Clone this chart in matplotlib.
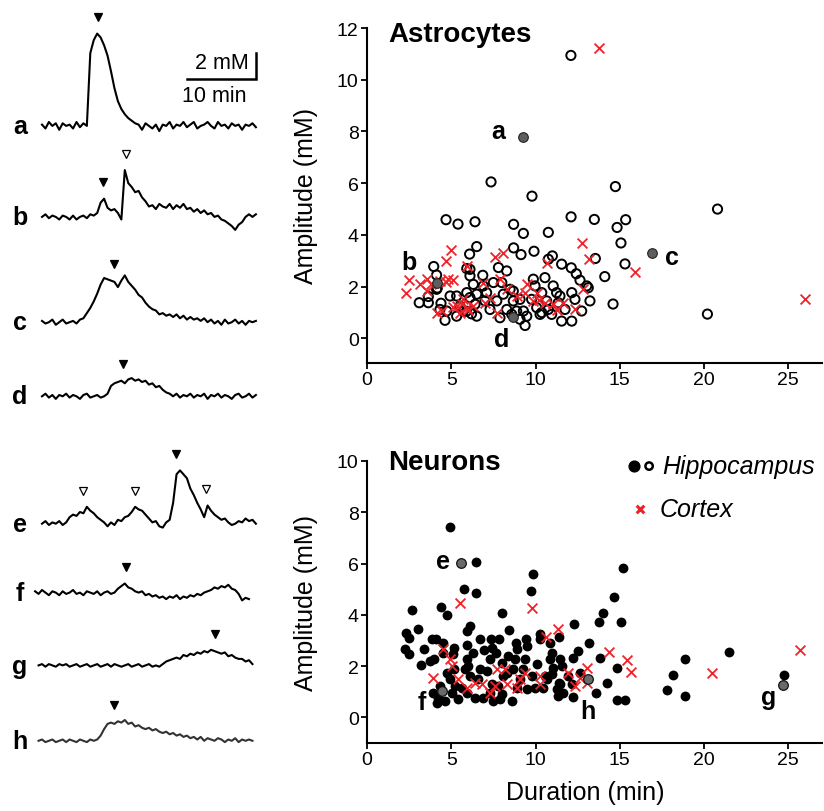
import numpy as np
import matplotlib.pyplot as plt

plt.rcParams['font.family'] = ['Liberation Sans', 'DejaVu Sans']

# ---- example traces (mM above baseline), one sample every 0.5 min ----
trace_names = ['a', 'b', 'c', 'd', 'e', 'f', 'g', 'h']

trace_a = [0.1, -0.2, 0.3, 0.0, 0.2, -0.3, 0.2, 0.0, 0.1, -0.2, 0.3, -0.1, 0.2, 0.0,
           5.6, 6.6, 7.1, 6.8, 6.2, 5.4, 4.2, 2.9, 1.9, 1.3, 0.9, 0.6, 0.4, 0.2,
           0.1, -0.3, 0.2, 0.0, -0.2, 0.1, -0.4, 0.1, 0.0, 0.3, -0.2, 0.1, 0.0, 0.3,
           -0.1, 0.1, 0.3, -0.2, 0.0, 0.1, 0.3, 0.0, -0.2, 0.3, 0.0, 0.1, -0.2, 0.2,
           0.0, 0.1, -0.3, 0.1, 0.0, 0.2, -0.1]
trace_b = [0.0, 0.2, -0.1, 0.1, 0.0, -0.2, 0.1, 0.0, -0.2, 0.1, -0.2, 0.0, 0.1, -0.1,
           0.2, 0.1, 0.3, 1.1, 1.4, 0.7, 0.5, 0.6, 0.3, -0.2,
           3.6, 2.6, 2.3, 1.9, 2.0, 1.5, 1.2, 0.8, 0.9, 0.6, 1.0, 0.8, 0.7, 1.0, 0.6,
           0.9, 0.7, 1.0, 0.6, 0.7, 0.4, 0.6, 0.3, 0.5, 0.2, 0.3, 0.0, 0.1, -0.2, -0.3,
           -0.5, -0.7, -1.0, -0.6, -0.4, 0.0, 0.2, 0.0, 0.2]
trace_c = [0.1, -0.1, 0.0, 0.2, -0.2, 0.0, 0.2, -0.1, 0.0, 0.1, -0.1, 0.2, 0.3,
           0.7, 1.1, 1.6, 2.2, 2.9, 3.4, 3.3, 3.2, 3.1, 2.7, 3.2, 3.6, 3.1, 2.8, 2.5,
           2.1, 1.9, 1.5, 1.2, 1.0, 0.9, 0.6, 0.7, 0.5, 0.6, 0.4, 0.6, 0.3, 0.5, 0.2,
           0.4, 0.2, 0.3, 0.1, 0.3, 0.0, 0.2, -0.1, 0.1, -0.2, 0.2, -0.1, 0.0, 0.2,
           -0.1, 0.1, -0.2, 0.1, 0.0, 0.1]
trace_d = [0.0, 0.2, -0.1, 0.1, -0.2, 0.1, 0.0, 0.2, -0.1, 0.1, 0.0, -0.2, 0.1, 0.2,
           -0.1, 0.0, 0.1, -0.1, 0.0,
           0.2, 0.8, 1.0, 1.1, 1.2, 1.0, 1.3, 1.4, 1.2, 1.3, 1.1, 1.2, 0.9, 1.0, 0.7,
           0.8, 0.5, 0.3, 0.2, 0.0, 0.2, -0.1, 0.1, 0.0, 0.2, -0.1, 0.1, 0.0, 0.2,
           -0.2, 0.1, 0.0, 0.2, -0.1, 0.1, 0.0, -0.2, 0.1, 0.2, -0.1, 0.0, 0.2, -0.1, 0.1]
trace_e = [0.0, 0.2, -0.1, 0.1, 0.0, 0.2, -0.1, 0.1, 0.5, 0.7, 0.6, 0.9, 0.8, 1.3,
           1.0, 0.8, 0.5, 0.3, 0.1, -0.2, 0.1, -0.1, 0.3, 0.2, 0.5, 0.6, 0.9, 1.3,
           1.1, 1.0, 0.7, 0.4, 0.1, 0.2, -0.2, -0.3, 0.1, 0.3, 1.6, 3.8, 4.1, 3.8,
           3.5, 2.7, 2.2, 1.6, 1.1, 0.5, 1.4, 1.0, 0.7, 0.5, 0.3, 0.4, 0.1, -0.1, 0.0,
           0.2, 0.1, 0.4, 0.2, 0.3, 0.0]
trace_f = [0.1, -0.1, 0.2, 0.0, -0.2, 0.1, 0.0, -0.2, 0.1, -0.1, 0.0, 0.2, -0.1,
           0.0, -0.2, 0.1, 0.0, -0.1, 0.1, -0.2, 0.0, 0.1, -0.1, 0.0, 0.3, 0.5, 0.7,
           0.4, 0.3, 0.1, 0.0, 0.1, -0.2, -0.1, -0.3, -0.2, -0.4, -0.3, -0.5, -0.3,
           -0.4, -0.2, -0.5, -0.3, -0.4, -0.2, -0.3, -0.1, -0.2, 0.0, 0.1, 0.2, 0.4,
           0.3, 0.5, 0.4, 0.6, 0.3, 0.2, -0.1, -0.6, -0.4, -0.5]
trace_g = [0.0, 0.1, -0.1, 0.1, 0.0, -0.1, 0.1, 0.0, 0.1, -0.1, 0.0, 0.1, -0.1,
           0.0, 0.1, -0.1, 0.0, 0.1, -0.1, 0.0, 0.1, -0.1, 0.1, 0.0, -0.1, 0.0, 0.1,
           -0.1, 0.0, 0.1, -0.1, 0.0, 0.1, -0.1, 0.0, -0.1, 0.1, 0.3, 0.4, 0.5, 0.6,
           0.5, 0.8, 0.7, 0.9, 0.8, 1.0, 0.9, 1.1, 1.0, 1.2, 1.1, 1.0, 0.9, 1.0, 0.7,
           0.8, 0.6, 0.5, 0.5, 0.3, 0.4, 0.1]
trace_h = [0.0, 0.1, -0.1, 0.0, 0.1, -0.1, 0.0, 0.1, -0.1, 0.1, 0.0, -0.1, 0.1,
           0.0, -0.1, 0.1, 0.0, 0.1, 0.4, 0.9, 1.3, 1.4, 1.3, 1.5, 1.4, 1.6, 1.3,
           1.4, 1.1, 1.2, 1.0, 0.9, 1.0, 0.8, 0.9, 0.7, 0.6, 0.7, 0.5, 0.6, 0.4, 0.5,
           0.3, 0.4, 0.2, 0.3, 0.1, 0.3, 0.0, 0.2, 0.1, 0.0, 0.2, 0.1, -0.1, 0.1, 0.0,
           0.2, -0.1, 0.1, 0.0, 0.1, 0.0]
traces = [trace_a, trace_b, trace_c, trace_d, trace_e, trace_f, trace_g, trace_h]
trace_start = [0, 0, 0, 0, 0, -1.0, -0.5, -0.5]   # min

# arrowheads above events: (time in min, filled?)
trace_marks = [
    [(8.1, True)],
    [(8.9, True), (12.2, False)],
    [(10.4, True)],
    [(11.7, True)],
    [(5.9, False), (13.5, False), (19.4, True), (23.8, False)],
    [(12.2, True)],
    [(25.1, True)],
    [(10.4, True)],
]

# ---- astrocytes: duration (min) vs amplitude (mM) ----
astro_hip_dur = [12.1, 7.36, 9.79, 14.74, 20.8, 4.69, 5.40, 6.41, 8.70, 9.28, 10.76, 12.11,
                 13.49, 14.84, 15.35, 15.07, 6.51, 6.09, 8.70, 9.14, 9.91, 11.0, 10.76, 13.55,
                 11.55, 12.12, 12.42, 12.64, 13.04, 14.11, 15.31, 14.6, 20.2, 3.96, 3.64, 3.10,
                 3.64, 4.39, 4.63, 5.92, 6.11, 6.31, 6.87, 5.32, 5.52, 5.32, 6.51, 6.11,
                 7.10, 7.80, 8.29, 7.50, 8.0, 8.49, 8.09, 7.70, 8.68, 8.29, 8.88, 9.28,
                 9.48, 9.38, 9.87, 9.97, 10.56, 10.37, 9.77, 10.37, 10.76, 11.05, 11.25, 11.45,
                 11.35, 11.75, 11.55, 12.15, 12.15, 12.34, 12.74, 13.23, 13.13, 4.33, 4.13, 4.73,
                 4.93, 5.72, 5.92, 6.41, 7.0, 7.30, 7.89, 8.68, 9.08, 10.07, 10.66, 10.96,
                 10.27, 8.59, 9.08, 6.51, 6.90, 6.11, 4.13, 4.17, 5.9, 6.2]
astro_hip_amp = [10.94, 6.05, 5.50, 5.87, 5.0, 4.59, 4.42, 4.51, 4.41, 4.06, 4.10, 4.70,
                 4.60, 4.29, 4.59, 3.69, 3.55, 3.26, 3.50, 3.24, 3.37, 3.19, 3.06, 3.09,
                 2.87, 2.73, 2.50, 2.25, 2.03, 2.39, 2.88, 1.33, 0.94, 2.78, 1.62, 1.38,
                 1.38, 1.36, 0.70, 2.70, 2.42, 2.09, 2.44, 1.64, 1.25, 0.86, 0.86, 1.58,
                 1.77, 2.74, 2.61, 2.16, 2.16, 1.90, 1.71, 1.45, 1.45, 1.12, 1.06, 1.06,
                 0.86, 0.50, 2.29, 2.03, 2.35, 1.77, 1.51, 1.0, 1.12, 2.03, 1.77, 1.64,
                 1.38, 1.12, 0.67, 0.67, 1.77, 1.51, 1.06, 1.45, 1.96, 1.12, 1.90, 1.06,
                 1.64, 1.06, 1.77, 1.32, 1.45, 1.12, 0.80, 1.83, 1.51, 1.19, 1.45, 0.93,
                 0.93, 0.93, 0.74, 1.71, 2.03, 2.67, 2.45, 1.95, 1.05, 0.95]
astro_ctx_dur = [13.77, 25.99, 12.78, 13.2, 15.9, 4.97, 4.69, 2.51, 2.30, 3.15, 3.54, 4.33,
                 4.83, 5.12, 7.60, 8.09, 5.92, 6.90, 7.89, 9.48, 10.66, 4.13, 4.43, 5.32,
                 5.62, 5.92, 6.31, 5.72, 7.30, 7.70, 8.29, 8.88, 9.38, 10.07, 10.56, 11.05,
                 11.65, 12.34, 12.84, 3.54, 7.0, 9.87, 5.5, 6.0, 5.1, 11.3, 10.2, 4.7, 3.8]
astro_ctx_amp = [11.24, 1.54, 3.67, 3.06, 2.58, 3.42, 3.0, 2.25, 1.77, 2.09, 2.29, 2.22,
                 2.29, 2.25, 3.13, 3.32, 2.80, 2.16, 2.29, 2.09, 2.93, 0.99, 1.06, 1.25,
                 1.32, 1.19, 1.25, 1.51, 1.58, 0.99, 1.90, 1.64, 1.77, 1.77, 1.38, 1.32,
                 1.38, 1.12, 1.90, 1.83, 1.38, 1.45, 1.0, 1.1, 1.2, 1.1, 1.5, 2.2, 2.1]
astro_sel_names = ['a', 'b', 'c', 'd']
astro_sel_dur = [9.24, 4.13, 16.91, 8.65]
astro_sel_amp = [7.78, 2.16, 3.29, 0.84]

# ---- neurons ----
neuron_hip_dur = [4.93, 6.47, 5.78, 6.47, 9.87, 9.71, 15.19, 14.68, 13.99, 13.79, 15.07, 2.67,
                  4.39, 4.77, 7.99, 2.31, 2.49, 3.04, 2.26, 2.51, 3.38, 3.19, 3.84, 4.09,
                  3.74, 3.98, 5.92, 6.11, 5.92, 5.16, 4.53, 5.92, 6.01, 6.71, 7.34, 7.85,
                  8.41, 6.94, 7.40, 7.66, 8.84, 8.88, 9.42, 9.48, 10.27, 10.27, 11.41, 12.28,
                  13.16, 12.54, 12.24, 10.96, 10.86, 11.45, 10.07, 9.38, 8.78, 13.83, 14.85, 18.87,
                  21.47, 18.18, 17.82, 18.87, 24.77, 14.82, 15.31, 13.57, 14.23, 12.24, 11.35, 11.26,
                  11.45, 10.96, 10.43, 9.77, 8.68, 8.59, 7.99, 7.50, 6.90, 6.41, 6.61, 6.71,
                  7.40, 8.09, 5.42, 5.03, 4.63, 4.14, 4.73, 4.93, 5.22, 5.62, 4.33, 6.11,
                  5.82, 5.16, 7.10, 8.29, 7.79, 9.08, 9.28, 10.56, 11.05, 11.41, 11.95, 12.15,
                  12.64, 11.65, 10.66, 8.39, 7.99, 7.30, 6.31, 4.53, 5.12, 3.93, 4.23, 9.97,
                  9.48, 8.88, 7.89, 7.30, 5.92, 11.55, 10.86]
neuron_hip_amp = [7.43, 6.07, 5.0, 4.87, 5.60, 4.93, 5.81, 4.71, 4.07, 3.71, 3.72, 4.17,
                  4.30, 3.98, 4.09, 3.31, 3.11, 3.44, 2.66, 2.46, 2.68, 2.03, 3.07, 3.05,
                  2.20, 2.27, 3.37, 3.57, 2.81, 2.70, 2.89, 2.29, 2.00, 3.05, 3.05, 3.07,
                  3.41, 2.64, 2.72, 2.53, 2.92, 2.66, 3.07, 2.79, 3.24, 3.05, 3.15, 3.63,
                  2.92, 2.59, 2.33, 2.53, 2.27, 2.27, 2.07, 2.27, 2.27, 2.33, 1.91, 2.29,
                  2.56, 1.64, 1.07, 0.83, 1.67, 0.69, 0.66, 0.94, 1.35, 0.81, 0.83, 1.09,
                  1.29, 1.68, 1.16, 1.61, 1.88, 0.64, 0.90, 0.64, 0.77, 0.77, 1.48, 1.88,
                  1.29, 1.61, 0.70, 0.96, 0.64, 0.57, 1.75, 1.48, 1.22, 1.16, 1.22, 1.61,
                  1.88, 1.88, 1.81, 1.75, 1.22, 1.48, 1.88, 1.61, 1.94, 1.35, 1.61, 1.29,
                  1.75, 0.96, 1.48, 2.39, 2.14, 2.27, 2.53, 2.53, 2.46, 0.96, 0.77, 1.16,
                  1.09, 1.16, 0.70, 0.96, 0.96, 2.00, 2.89]
neuron_ctx_dur = [5.52, 9.81, 11.35, 10.62, 14.38, 25.7, 15.41, 15.65, 20.47, 4.49, 4.93, 5.03,
                  3.90, 5.42, 5.92, 6.41, 6.81, 7.30, 7.60, 7.70, 8.19, 8.29, 8.88, 9.08,
                  9.38, 10.27, 10.27, 11.95, 12.34, 12.64, 13.04, 13.04]
neuron_ctx_amp = [4.48, 4.28, 3.44, 3.15, 2.56, 2.63, 2.23, 1.78, 1.75, 2.66, 2.27, 2.00,
                  1.55, 1.48, 1.16, 1.35, 1.29, 0.96, 1.22, 1.88, 1.88, 1.29, 1.16, 1.48,
                  1.75, 1.61, 1.29, 1.75, 1.22, 1.55, 1.94, 1.35]
neuron_sel_names = ['e', 'f', 'g', 'h']
neuron_sel_dur = [5.60, 4.47, 24.71, 13.14]
neuron_sel_amp = [6.02, 1.03, 1.25, 1.48]

red = '#ee2229'
grey = '#5e5e5e'

fig = plt.figure(figsize=(8.24, 8.12), dpi=100)

# ---------------- left column: example traces ----------------
ax_tr = fig.add_axes([0, 0, 290 / 824, 1])
ax_tr.set_xlim(-42 / 6.9, 248 / 6.9)     # 6.9 px per min
ax_tr.set_ylim(0, 812 / 13)              # 13 px per mM
ax_tr.axis('off')

trace_rows = [52.7, 45.7, 37.6, 31.9, 22.1, 16.8, 11.2, 5.4]
for name, vals, t0, row, marks in zip(trace_names, traces, trace_start, trace_rows, trace_marks):
    vals = np.array(vals)
    t = t0 + 0.5 * np.arange(len(vals))
    col = '#333333' if name == 'h' else 'k'
    ax_tr.plot(t, row + vals, color=col, lw=1.5)
    for tm, filled in marks:
        near = vals[np.abs(t - tm) <= 0.75]
        ax_tr.plot(tm, row + near.max() + 1.25, marker='v', ms=6,
                   mfc='k' if filled else 'w', mec='k', mew=0.9)
    ax_tr.text(-3.2, row - 0.55, name, fontsize=18, fontweight='bold',
               ha='center', va='baseline')

# scale bar: 10 min x 2 mM
ax_tr.plot([21.0, 31.0, 31.0], [56.3, 56.3, 58.3], color='k', lw=1.8,
           solid_joinstyle='miter')
ax_tr.text(29.9, 57.6, '2 mM', fontsize=15.5, ha='right', va='center')
ax_tr.text(25.0, 55.0, '10 min', fontsize=15.5, ha='center', va='center')


def style(ax, ymin, ymax, yticks):
    ax.set_xlim(0, 27)
    ax.set_ylim(ymin, ymax)
    ax.set_xticks([0, 5, 10, 15, 20, 25])
    ax.set_yticks(yticks)
    for s in ['top', 'right']:
        ax.spines[s].set_visible(False)
    for s in ['left', 'bottom']:
        ax.spines[s].set_linewidth(1.5)
    ax.tick_params(width=1.3, length=4, labelsize=14, pad=2)
    ax.set_ylabel('Amplitude (mM)', fontsize=18)
    ax.yaxis.set_label_coords(-0.108, 0.5)


# ---------------- astrocytes ----------------
ax1 = fig.add_axes([367 / 824, 1 - 364 / 812, 455 / 824, 335 / 812])
style(ax1, -0.95, 12, [0, 2, 4, 6, 8, 10, 12])
ax1.scatter(astro_hip_dur, astro_hip_amp, s=44, facecolors='none', edgecolors='k',
            linewidths=1.4, zorder=2)
ax1.scatter(astro_ctx_dur, astro_ctx_amp, s=50, marker='x', color=red, linewidths=1.3, zorder=3)
ax1.scatter(astro_sel_dur, astro_sel_amp, s=48, color=grey, edgecolors='#222222',
            linewidths=0.8, zorder=4)
ax1.text(0.046, 0.982, 'Astrocytes', transform=ax1.transAxes, fontsize=20,
         fontweight='bold', ha='left', va='center')
astro_lab_pos = [(7.77, 8.02), (2.49, 2.95), (18.1, 3.14), (7.99, -0.04)]
for name, (x, y) in zip(astro_sel_names, astro_lab_pos):
    ax1.text(x, y, name, fontsize=18, fontweight='bold', ha='center', va='center')

# ---------------- neurons ----------------
ax2 = fig.add_axes([367 / 824, 1 - 744 / 812, 455 / 824, 282 / 812])
style(ax2, -1, 10, [0, 2, 4, 6, 8, 10])
ax2.scatter(neuron_hip_dur, neuron_hip_amp, s=50, color='k', linewidths=0, zorder=2)
ax2.scatter(neuron_ctx_dur, neuron_ctx_amp, s=50, marker='x', color=red, linewidths=1.3, zorder=3)
ax2.scatter(neuron_sel_dur, neuron_sel_amp, s=48, color='#6a6a6a', edgecolors='#111111',
            linewidths=0.9, zorder=4)
ax2.text(0.046, 0.996, 'Neurons', transform=ax2.transAxes, fontsize=20,
         fontweight='bold', ha='left', va='center')
neuron_lab_pos = [(4.51, 6.09), (3.26, 0.59), (23.86, 0.78), (13.12, 0.23)]
for name, (x, y) in zip(neuron_sel_names, neuron_lab_pos):
    ax2.text(x, y, name, fontsize=18, fontweight='bold', ha='center', va='center')
ax2.set_xlabel('Duration (min)', fontsize=18)
ax2.xaxis.set_label_coords(0.48, -0.13)

# legend drawn by hand
ax2.scatter([0.587], [0.982], s=60, color='k', transform=ax2.transAxes, clip_on=False)
ax2.scatter([0.620], [0.982], s=28, facecolors='none', edgecolors='k', linewidths=1.8,
            transform=ax2.transAxes, clip_on=False)
ax2.text(0.648, 0.982, 'Hippocampus', transform=ax2.transAxes, fontsize=18,
         style='italic', ha='left', va='center')
ax2.scatter([0.600], [0.830], s=30, marker='x', color=red, linewidths=2.2,
            transform=ax2.transAxes, clip_on=False)
ax2.text(0.644, 0.830, 'Cortex', transform=ax2.transAxes, fontsize=18,
         style='italic', ha='left', va='center')

fig.savefig('out.png', dpi=100)
